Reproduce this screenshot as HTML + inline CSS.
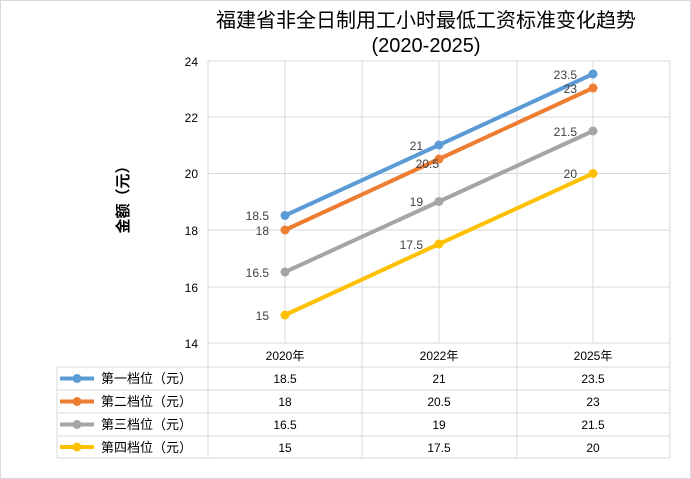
<!DOCTYPE html>
<html><head><meta charset="utf-8"><style>
html,body{margin:0;padding:0;background:#fff}
svg{display:block}
text{font-family:"Liberation Sans","Noto Sans CJK SC",sans-serif}
</style></head><body>
<svg width="691" height="479" viewBox="0 0 691 479" xmlns="http://www.w3.org/2000/svg">
<rect x="0.5" y="0.5" width="690" height="478" fill="#fff" stroke="#d9d9d9"/>
<text x="426" y="27" font-size="20" text-anchor="middle" fill="#000">福建省非全日制用工小时最低工资标准变化趋势</text>
<text x="426" y="52" font-size="20" text-anchor="middle" fill="#000">(2020-2025)</text>
<g stroke="#d9d9d9" stroke-width="1">
<line x1="208" y1="61" x2="670" y2="61"/>
<line x1="208" y1="117" x2="670" y2="117"/>
<line x1="208" y1="173.5" x2="670" y2="173.5"/>
<line x1="208" y1="230" x2="670" y2="230"/>
<line x1="208" y1="287" x2="670" y2="287"/>
<line x1="208" y1="343" x2="670" y2="343"/>
<line x1="208" y1="61" x2="208" y2="458"/>
<line x1="285" y1="61" x2="285" y2="343"/>
<line x1="362" y1="61" x2="362" y2="458"/>
<line x1="439" y1="61" x2="439" y2="343"/>
<line x1="517" y1="61" x2="517" y2="458"/>
<line x1="593" y1="61" x2="593" y2="343"/>
<line x1="670" y1="61" x2="670" y2="458"/>
<line x1="57" y1="367" x2="670" y2="367"/>
<line x1="57" y1="390" x2="670" y2="390"/>
<line x1="57" y1="413" x2="670" y2="413"/>
<line x1="57" y1="436" x2="670" y2="436"/>
<line x1="57" y1="458" x2="670" y2="458"/>
<line x1="57" y1="367" x2="57" y2="458"/>
</g>
<g font-size="12" text-anchor="end" fill="#000">
<text x="198" y="66">24</text><text x="198" y="122">22</text><text x="198" y="178">20</text>
<text x="198" y="235">18</text><text x="198" y="292">16</text><text x="198" y="348">14</text>
</g>
<text transform="translate(128,196) rotate(-90)" font-size="15" font-weight="bold" text-anchor="middle">金额（元）</text>
<g stroke-width="4" fill="none">
<polyline points="285,215.5 439,145 593,74" stroke="#5b9bd5"/>
<polyline points="285,230 439,159 593,88" stroke="#ed7d31"/>
<polyline points="285,272 439,201.5 593,131" stroke="#a5a5a5"/>
<polyline points="285,315 439,244 593,173.5" stroke="#ffc000"/>
</g>
<g fill="#5b9bd5"><circle cx="285" cy="215.5" r="4.5"/><circle cx="439" cy="145" r="4.5"/><circle cx="593" cy="74" r="4.5"/></g>
<g fill="#ed7d31"><circle cx="285" cy="230" r="4.5"/><circle cx="439" cy="159" r="4.5"/><circle cx="593" cy="88" r="4.5"/></g>
<g fill="#a5a5a5"><circle cx="285" cy="272" r="4.5"/><circle cx="439" cy="201.5" r="4.5"/><circle cx="593" cy="131" r="4.5"/></g>
<g fill="#ffc000"><circle cx="285" cy="315" r="4.5"/><circle cx="439" cy="244" r="4.5"/><circle cx="593" cy="173.5" r="4.5"/></g>
<g font-size="12" text-anchor="end" fill="#404040">
<text x="269" y="220">18.5</text><text x="269" y="235">18</text><text x="269" y="277">16.5</text><text x="269" y="320">15</text>
<text x="423" y="150">21</text><text x="439" y="168">20.5</text><text x="423" y="206">19</text><text x="423" y="249">17.5</text>
<text x="577" y="79">23.5</text><text x="577" y="93">23</text><text x="577" y="136">21.5</text><text x="577" y="178">20</text>
</g>
<g font-size="12" text-anchor="middle" fill="#000">
<text x="285" y="360">2020年</text><text x="439" y="360">2022年</text><text x="593" y="360">2025年</text>
<text x="285" y="383">18.5</text><text x="439" y="383">21</text><text x="593" y="383">23.5</text>
<text x="285" y="406">18</text><text x="439" y="406">20.5</text><text x="593" y="406">23</text>
<text x="285" y="429">16.5</text><text x="439" y="429">19</text><text x="593" y="429">21.5</text>
<text x="285" y="452">15</text><text x="439" y="452">17.5</text><text x="593" y="452">20</text>
</g>
<g stroke-width="4">
<line x1="60" y1="378.5" x2="94" y2="378.5" stroke="#5b9bd5"/><circle cx="77" cy="378.5" r="4.5" fill="#5b9bd5"/>
<line x1="60" y1="401.5" x2="94" y2="401.5" stroke="#ed7d31"/><circle cx="77" cy="401.5" r="4.5" fill="#ed7d31"/>
<line x1="60" y1="424.5" x2="94" y2="424.5" stroke="#a5a5a5"/><circle cx="77" cy="424.5" r="4.5" fill="#a5a5a5"/>
<line x1="60" y1="447" x2="94" y2="447" stroke="#ffc000"/><circle cx="77" cy="447" r="4.5" fill="#ffc000"/>
</g>
<g font-size="13" fill="#000">
<text x="101" y="383">第一档位（元）</text><text x="101" y="406">第二档位（元）</text>
<text x="101" y="429">第三档位（元）</text><text x="101" y="452">第四档位（元）</text>
</g>
</svg>
</body></html>
